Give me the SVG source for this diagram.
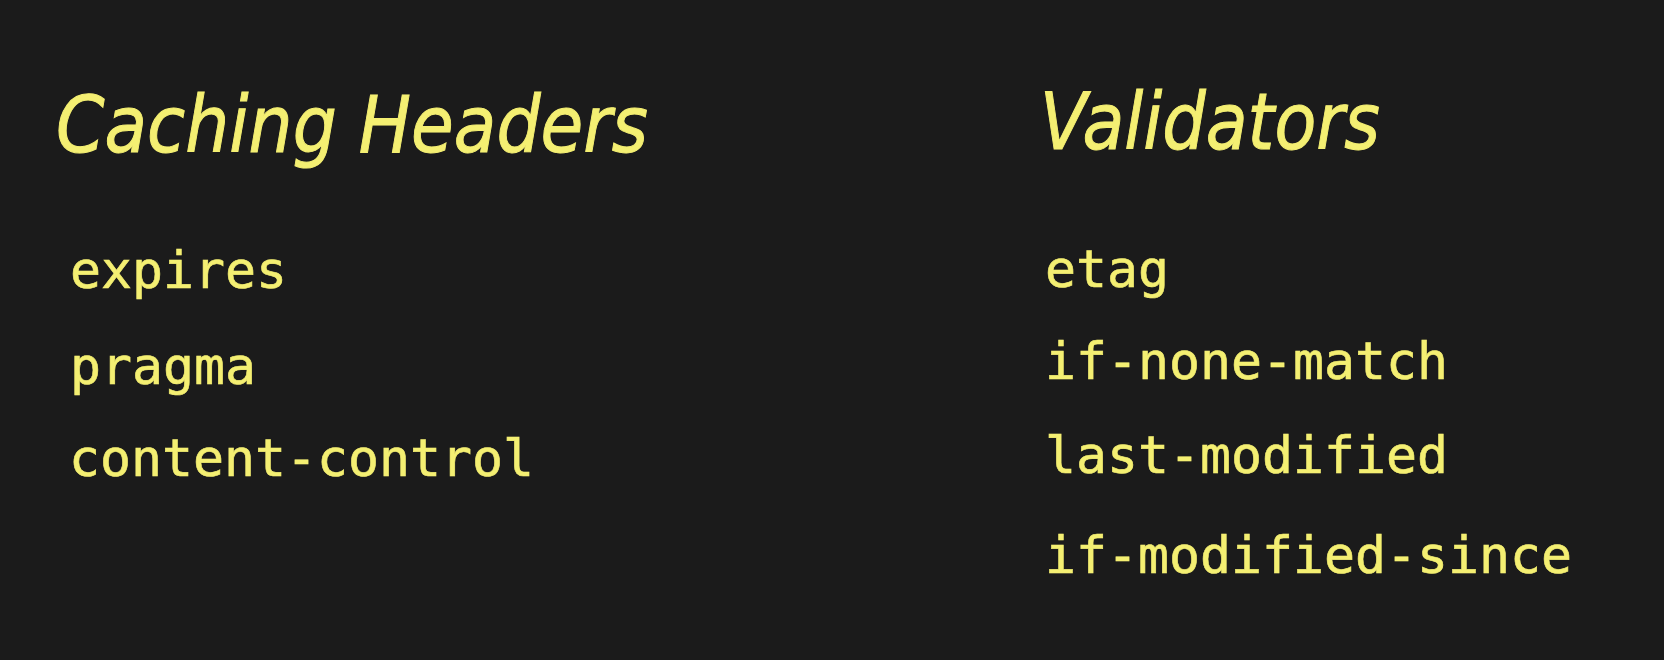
<svg xmlns="http://www.w3.org/2000/svg" width="1664" height="660" viewBox="0 0 1664 660">
<style>
.bg{fill:#1b1b1b}
.h{font-family:"DejaVu Sans",sans-serif;font-style:italic;font-size:78px;fill:#f4ef72;stroke:#f4ef72;stroke-width:1}
.m{font-family:"DejaVu Sans Mono",monospace;font-size:51.5px;fill:#f4ef72;stroke:#f4ef72;stroke-width:0.6}
</style>
<rect class="bg" x="0" y="0" width="1664" height="660"/>
<g id="caching-headers">
<text class="h" x="56" y="152" textLength="592" lengthAdjust="spacingAndGlyphs">Caching Headers</text>
<text class="m" x="70" y="288">expires</text>
<text class="m" x="70" y="384">pragma</text>
<text class="m" x="69" y="476">content-control</text>
</g>
<g id="validators">
<text class="h" x="1040" y="149" textLength="340" lengthAdjust="spacingAndGlyphs">Validators</text>
<text class="m" x="1045" y="287">etag</text>
<text class="m" x="1045" y="379">if-none-match</text>
<text class="m" x="1045" y="473">last-modified</text>
<text class="m" x="1045" y="573">if-modified-since</text>
</g>
<g id="connectors"></g>
</svg>
